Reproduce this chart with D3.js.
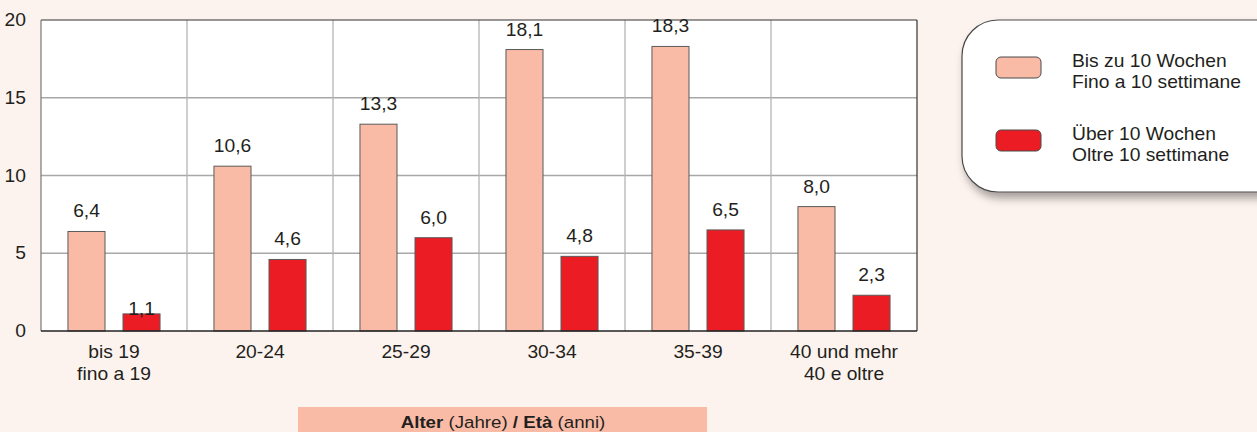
<!DOCTYPE html>
<html>
<head>
<meta charset="utf-8">
<script src="https://cdn.jsdelivr.net/npm/d3@7"></script>
<style>
  html, body { margin: 0; padding: 0; background: #fdf3ee; }
  svg { display: block; font-family: "Liberation Sans", Arial, sans-serif; }
</style>
</head>
<body>
<svg id="chart" width="1257" height="432"></svg>
<script>
const categories = [['bis 19', 'fino a 19'], ['20-24'], ['25-29'], ['30-34'], ['35-39'], ['40 und mehr', '40 e oltre']];
const upTo10 = [6.4, 10.6, 13.3, 18.1, 18.3, 8.0];
const over10 = [1.1, 4.6, 6.0, 4.8, 6.5, 2.3];
const seriesNames = [['Bis zu 10 Wochen', 'Fino a 10 settimane'], ['Über 10 Wochen', 'Oltre 10 settimane']];
const yTicks = [0, 5, 10, 15, 20];

const colors = ['#f9bba6', '#ec1c24'];
const ink = '#231f20';
const sx = 1.1; // text in the original is slightly stretched horizontally
const svg = d3.select('#chart');
const plot = { left: 41, right: 917, top: 20, bottom: 331 };

const x = d3.scaleBand()
  .domain(d3.range(categories.length))
  .range([plot.left, plot.right]);

const xInner = d3.scaleBand()
  .domain([0, 1])
  .range([0, x.bandwidth()])
  .paddingInner(0.327)
  .paddingOuter(0.49);

const y = d3.scaleLinear().domain([0, 20]).range([plot.bottom, plot.top]);

const place = (px, py) => `translate(${px},${py}) scale(${sx},1)`;

const defs = svg.append('defs');
const shadow = defs.append('filter').attr('id', 'shadow')
  .attr('x', '-10%').attr('y', '-10%').attr('width', '130%').attr('height', '140%');
shadow.append('feDropShadow')
  .attr('dx', 3).attr('dy', 6).attr('stdDeviation', 4)
  .attr('flood-color', '#000').attr('flood-opacity', 0.35);

// plot background
svg.append('rect')
  .attr('x', plot.left).attr('y', plot.top)
  .attr('width', plot.right - plot.left).attr('height', plot.bottom - plot.top)
  .attr('fill', '#fff');

// grid
svg.append('g').selectAll('line')
  .data(yTicks.filter(d => d > 0 && d < 20))
  .enter().append('line')
  .attr('x1', plot.left).attr('x2', plot.right)
  .attr('y1', d => y(d)).attr('y2', d => y(d))
  .attr('stroke', '#a8a8a8').attr('stroke-width', 1.3);

svg.append('g').selectAll('line')
  .data(d3.range(1, categories.length))
  .enter().append('line')
  .attr('x1', d => x(d)).attr('x2', d => x(d))
  .attr('y1', plot.top).attr('y2', plot.bottom)
  .attr('stroke', '#b4b4b4').attr('stroke-width', 1.3);

// frame
svg.append('line').attr('x1', plot.left).attr('x2', plot.right).attr('y1', plot.top).attr('y2', plot.top)
  .attr('stroke', '#333').attr('stroke-width', 1.2);
svg.append('line').attr('x1', plot.right).attr('x2', plot.right).attr('y1', plot.top).attr('y2', plot.bottom)
  .attr('stroke', '#333').attr('stroke-width', 1.2);
svg.append('line').attr('x1', plot.left).attr('x2', plot.left).attr('y1', plot.top).attr('y2', plot.bottom)
  .attr('stroke', '#777').attr('stroke-width', 1.2);

// bars
const series = [upTo10, over10];
const groups = svg.append('g').selectAll('g')
  .data(categories)
  .enter().append('g')
  .attr('transform', (d, i) => `translate(${x(i)},0)`);

const fmt = v => v.toFixed(1).replace('.', ',');

groups.each(function(c, i) {
  const g = d3.select(this);
  series.forEach((s, k) => {
    const v = s[i];
    g.append('rect')
      .attr('x', xInner(k)).attr('y', y(v))
      .attr('width', xInner.bandwidth()).attr('height', y(0) - y(v))
      .attr('fill', colors[k]).attr('stroke', '#5a5a5a').attr('stroke-width', 1);
    // the 1,1 label sits on its bar in the original
    const off = (i === 0 && k === 1) ? -1 : 14;
    g.append('text')
      .attr('transform', place(xInner(k) + xInner.bandwidth() / 2, y(v) - off))
      .attr('text-anchor', 'middle')
      .attr('font-size', 17.5).attr('fill', ink)
      .text(fmt(v));
  });
  g.selectAll('text.cat')
    .data(c)
    .enter().append('text')
    .attr('class', 'cat')
    .attr('transform', (d, j) => place(x.bandwidth() / 2, 358 + j * 22))
    .attr('text-anchor', 'middle')
    .attr('font-size', 17.5).attr('fill', ink)
    .text(d => d);
});

// bottom axis line
svg.append('line').attr('x1', plot.left).attr('x2', plot.right).attr('y1', plot.bottom).attr('y2', plot.bottom)
  .attr('stroke', '#222').attr('stroke-width', 1.5);

// y tick labels
svg.append('g').selectAll('text')
  .data(yTicks)
  .enter().append('text')
  .attr('transform', d => place(26, y(d) + 6))
  .attr('text-anchor', 'end')
  .attr('font-size', 17.5).attr('fill', ink)
  .text(d => d);

// x axis title box
svg.append('rect')
  .attr('x', 298).attr('y', 407).attr('width', 409).attr('height', 30)
  .attr('fill', '#f9bba6');
const title = svg.append('text')
  .attr('transform', place(503, 428))
  .attr('text-anchor', 'middle')
  .attr('font-size', 17).attr('fill', ink);
title.append('tspan').attr('font-weight', 'bold').text('Alter');
title.append('tspan').text(' (Jahre) ');
title.append('tspan').attr('font-weight', 'bold').text('/ Età');
title.append('tspan').text(' (anni)');

// legend
const legend = svg.append('g');
legend.append('rect')
  .attr('x', 962).attr('y', 20).attr('width', 340).attr('height', 172)
  .attr('rx', 36).attr('ry', 36)
  .attr('fill', '#fff').attr('stroke', '#4a4a4a').attr('stroke-width', 1.2)
  .attr('filter', 'url(#shadow)');

const items = legend.selectAll('g.item')
  .data(seriesNames)
  .enter().append('g')
  .attr('class', 'item')
  .attr('transform', (d, i) => `translate(0,${i * 73})`);

items.append('rect')
  .attr('x', 996).attr('y', 57).attr('width', 45).attr('height', 21)
  .attr('rx', 5).attr('ry', 5)
  .attr('fill', (d, i) => colors[i]).attr('stroke', '#4a4a4a').attr('stroke-width', 1);

items.selectAll('text')
  .data(d => d)
  .enter().append('text')
  .attr('transform', (d, j) => place(1072, 67 + j * 21))
  .attr('font-size', 17.5).attr('fill', ink)
  .text(d => d);
</script>
</body>
</html>
